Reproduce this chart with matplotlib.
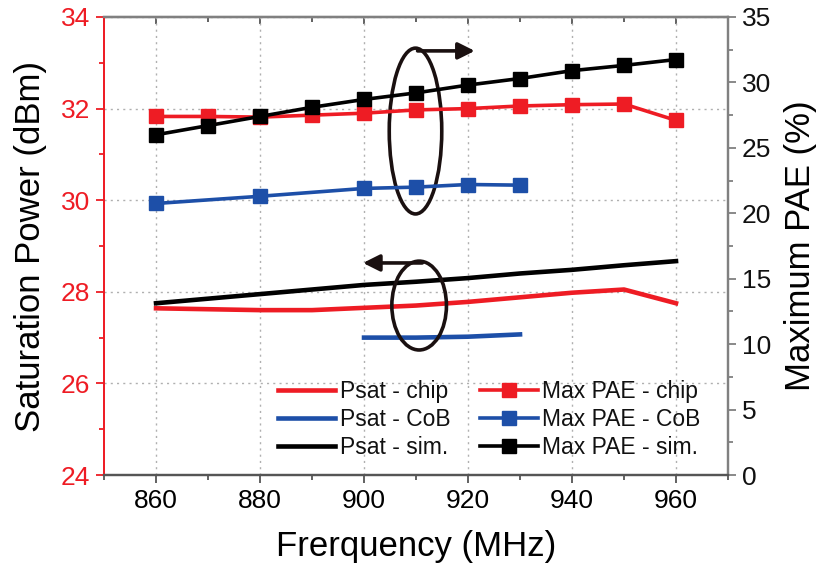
import matplotlib
matplotlib.use("Agg")
import matplotlib.pyplot as plt
from matplotlib.patches import Ellipse
from matplotlib.ticker import MultipleLocator

plt.rcParams['font.family'] = ['Liberation Sans', 'DejaVu Sans']

# ---- data ----
freq = [860, 870, 880, 890, 900, 910, 920, 930, 940, 950, 960]
psat_chip = [27.64, 27.62, 27.60, 27.60, 27.65, 27.70, 27.78, 27.88, 27.98, 28.05, 27.75]
psat_sim = [27.75, 27.85, 27.95, 28.05, 28.15, 28.22, 28.30, 28.40, 28.48, 28.58, 28.67]
freq_cob_psat = [900, 910, 920, 930]
psat_cob = [27.00, 27.00, 27.02, 27.07]

pae_chip = [27.4, 27.4, 27.35, 27.5, 27.65, 27.9, 28.0, 28.2, 28.3, 28.35, 27.1]
pae_sim = [26.0, 26.7, 27.4, 28.1, 28.7, 29.2, 29.8, 30.3, 30.9, 31.3, 31.75]
freq_cob_pae = [860, 880, 900, 910, 920, 930]
pae_cob = [20.75, 21.3, 21.9, 22.0, 22.2, 22.15]

RED = '#ee1c24'
BLUE = '#1d4fa8'
BLACK = '#000000'
GREY = '#808080'
DARK = '#1a1010'

fig = plt.figure(figsize=(8.27, 5.8), dpi=100)
ax = fig.add_axes([0.1258, 0.181, 0.7545, 0.7897])
ax2 = ax.twinx()

l1, = ax.plot(freq, psat_chip, color=RED, lw=3.3, label='Psat - chip')
l2, = ax.plot(freq_cob_psat, psat_cob, color=BLUE, lw=3.3, label='Psat - CoB')
l3, = ax.plot(freq, psat_sim, color=BLACK, lw=3.3, label='Psat - sim.')

m1, = ax2.plot(freq, pae_chip, color=RED, lw=2.6, marker='s', ms=10, label='Max PAE - chip')
m2, = ax2.plot(freq_cob_pae, pae_cob, color=BLUE, lw=2.6, marker='s', ms=10, label='Max PAE - CoB')
m3, = ax2.plot(freq, pae_sim, color=BLACK, lw=2.6, marker='s', ms=10, label='Max PAE - sim.')

ax.set_xlim(850, 970)
ax.set_ylim(24, 34)
ax2.set_ylim(0, 35)

ax.xaxis.set_major_locator(MultipleLocator(20))
ax.xaxis.set_minor_locator(MultipleLocator(10))
ax.yaxis.set_major_locator(MultipleLocator(2))
ax.yaxis.set_minor_locator(MultipleLocator(1))
ax2.yaxis.set_major_locator(MultipleLocator(5))
ax2.yaxis.set_minor_locator(MultipleLocator(2.5))

ax.grid(True, which='major', color='#b0b0b0', ls=(0, (1.5, 3)), lw=1)

ax.spines['left'].set_color(RED)
ax2.spines['left'].set_color(RED)
for a in (ax, ax2):
    a.spines['top'].set_color(GREY)
    a.spines['right'].set_color(GREY)
    a.spines['bottom'].set_color('#555555')
    for sp in a.spines.values():
        sp.set_linewidth(1.6)
    a.spines['left'].set_linewidth(1.3)

ax.tick_params(axis='y', which='both', colors=RED, labelcolor=RED, labelsize=19, direction='out', pad=4)
ax.tick_params(axis='y', which='major', length=6, width=1.3)
ax.tick_params(axis='y', which='minor', length=3.5, width=1.3)
ax.tick_params(axis='x', which='both', top=False, direction='out', labelsize=19, pad=4, color='#555555')
ax.tick_params(axis='x', which='major', length=6, width=1.3)
ax.tick_params(axis='x', which='minor', length=3.5, width=1.3)
ax2.tick_params(axis='y', which='both', colors=GREY, labelcolor='#111111', labelsize=19, direction='out', pad=4)
ax2.tick_params(axis='y', which='major', length=6, width=1.3)
ax2.tick_params(axis='y', which='minor', length=3.5, width=1.3)

# top ticks inward
secx = ax.secondary_xaxis('top')
secx.xaxis.set_major_locator(MultipleLocator(20))
secx.xaxis.set_minor_locator(MultipleLocator(10))
secx.tick_params(axis='x', which='both', direction='in', labeltop=False, color='#555555')
secx.tick_params(axis='x', which='major', length=5, width=1.3)
secx.tick_params(axis='x', which='minor', length=3.5, width=1.3)
secx.spines['top'].set_color(GREY)
secx.spines['top'].set_linewidth(1.6)

ax.set_xlabel('Frerquency (MHz)', fontsize=25, labelpad=12)
ax.set_ylabel('Saturation Power (dBm)', fontsize=25, labelpad=10)
ax2.set_ylabel('Maximum PAE (%)', fontsize=25, labelpad=9)

# annotations: ellipses and arrows
e1 = Ellipse((909.9, 31.51), 10.1, 3.62, fill=False, ec=DARK, lw=2.6, zorder=5)
e2 = Ellipse((910.6, 27.70), 10.5, 1.94, fill=False, ec=DARK, lw=2.6, zorder=5)
ax.add_patch(e1)
ax.add_patch(e2)
ax.annotate('', xy=(921.3, 33.26), xytext=(910.3, 33.26),
            arrowprops=dict(arrowstyle='-|>,head_length=1.0,head_width=0.5', color=DARK, lw=2.6,
                            shrinkA=0, shrinkB=0))
ax.annotate('', xy=(899.8, 28.63), xytext=(911.2, 28.63),
            arrowprops=dict(arrowstyle='-|>,head_length=1.0,head_width=0.5', color=DARK, lw=2.6,
                            shrinkA=0, shrinkB=0))

leg = ax2.legend(handles=[l1, l2, l3, m1, m2, m3], ncol=2, loc='lower left',
                 bbox_to_anchor=(0.279, 0.035), frameon=False, fontsize=16.5,
                 handlelength=2.5, handletextpad=0.2, columnspacing=1.3,
                 labelspacing=0.22, borderpad=0, borderaxespad=0)
for t in leg.get_texts():
    t.set_color('#111111')

fig.savefig('out.png', dpi=100)
